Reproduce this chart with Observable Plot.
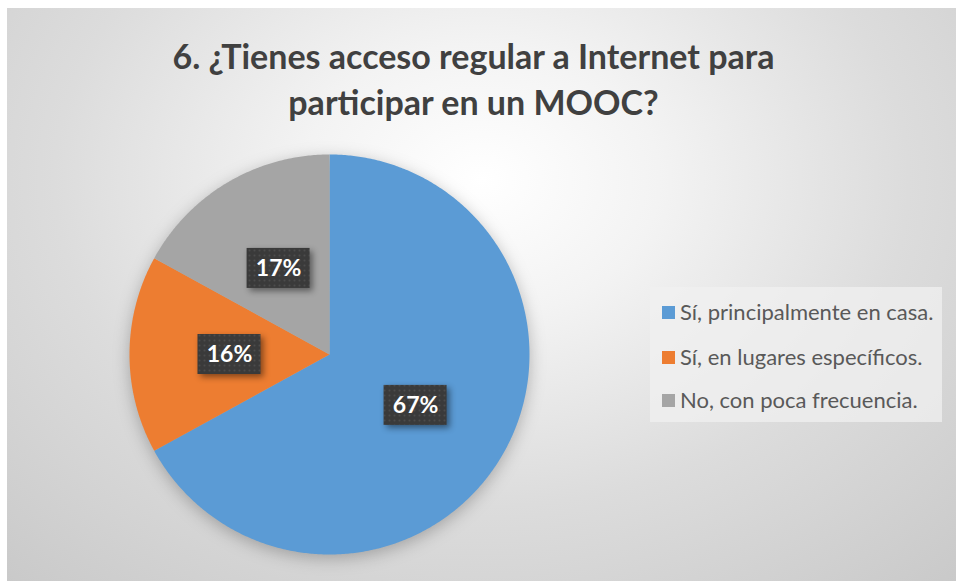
<!DOCTYPE html>
<html>
<head>
<meta charset="utf-8">
<script src="https://cdn.jsdelivr.net/npm/d3@7"></script>
<script src="https://cdn.jsdelivr.net/npm/@observablehq/plot@0.6"></script>
<style>
  html, body { margin: 0; padding: 0; background: #fff; }
  #wrap {
    position: absolute; left: 7px; top: 8px; width: 949px; height: 573px;
    background: radial-gradient(ellipse 75% 95% at 50% 30%, #ffffff 0%, #f3f3f3 25%, #dcdcdc 60%, #c9c9c9 100%);
    overflow: hidden;
    font-family: Lato, "Open Sans", sans-serif;
  }
  #title {
    position: absolute; left: 0; top: 25px; width: 933px; text-align: center;
    font-size: 34px; font-weight: bold; color: #404040; line-height: 46px;
  }
  #legend {
    position: absolute; left: 643px; top: 279px; width: 292px; height: 135px;
    background: rgba(240,240,240,0.75);
  }
  .item { position: absolute; left: 12px; font-size: 22px; line-height: 26px; color: #595959; white-space: nowrap; }
  .sw { display: inline-block; width: 13px; height: 13px; margin-right: 5px; vertical-align: 1px; }
  #chart { position: absolute; left: 0; top: 0; }
  g[aria-label="line"] { filter: drop-shadow(0px 4px 8px rgba(0,0,0,0.25)); }
  g[aria-label="rect"] { filter: drop-shadow(3px 3px 3px rgba(0,0,0,0.45)); }
</style>
</head>
<body>
<div id="wrap">
  <div id="chart"></div>
  <div id="title">6. ¿Tienes acceso regular a Internet para<br>participar en un MOOC?</div>
  <div id="legend"></div>
</div>
<script>
const categories = ["Sí, principalmente en casa.", "Sí, en lugares específicos.", "No, con poca frecuencia."];
const values = [67, 16, 17];
const colors = ["#5B9BD5", "#ED7D31", "#A5A5A5"];
const labels = ["67%", "16%", "17%"];

// pie angles (clockwise from 12 o'clock)
const pie = d3.pie().sort(null).value(d => d)(values);
const slicePts = [];
pie.forEach((p, i) => {
  slicePts.push({cat: categories[i], x: 0, y: 0});
  const n = Math.max(2, Math.ceil((p.endAngle - p.startAngle) / (Math.PI / 360)));
  for (let k = 0; k <= n; k++) {
    const a = p.startAngle + (p.endAngle - p.startAngle) * k / n;
    slicePts.push({cat: categories[i], x: Math.sin(a), y: Math.cos(a)});
  }
  slicePts.push({cat: categories[i], x: 0, y: 0});
});

const R = 200, cx = 322, cy = 346;
const bw = 63 / R / 2, bh = 40 / R / 2;
const labelData = pie.map((p, i) => {
  const a = (p.startAngle + p.endAngle) / 2;
  const x = 0.5 * Math.sin(a), y = 0.5 * Math.cos(a);
  return {label: labels[i], x, y, x1: x - bw, x2: x + bw, y1: y - bh, y2: y + bh};
});

const chart = Plot.plot({
  width: 949, height: 573,
  margin: 0,
  style: {background: "transparent", overflow: "visible"},
  x: {domain: [-1, 1], range: [cx - R, cx + R], axis: null},
  y: {domain: [-1, 1], range: [cy + R, cy - R], axis: null},
  color: {domain: categories, range: colors},
  marks: [
    Plot.line(slicePts, {x: "x", y: "y", z: "cat", fill: "cat", stroke: "none", curve: "linear"}),
    Plot.rect(labelData, {x1: "x1", x2: "x2", y1: "y1", y2: "y2", fill: "#3d3d3d"}),
    Plot.text(labelData, {x: "x", y: "y", text: "label", fill: "white", fontSize: 23, fontWeight: "bold", fontFamily: "Lato, 'Open Sans', sans-serif"})
  ]
});

// dotted pattern for data label boxes
const ns = "http://www.w3.org/2000/svg";
const defs = document.createElementNS(ns, "defs");
defs.innerHTML = '<pattern id="dots" width="5" height="5" patternUnits="userSpaceOnUse">' +
  '<rect width="5" height="5" fill="#3a3a3a"/><circle cx="2.5" cy="2.5" r="1" fill="#4c4c4c"/></pattern>';
chart.insertBefore(defs, chart.firstChild);
chart.querySelectorAll('g[aria-label="rect"] rect').forEach(r => r.setAttribute("fill", "url(#dots)"));

document.getElementById("chart").appendChild(chart);

const legend = document.getElementById("legend");
const centers = [25, 70, 113];
categories.forEach((c, i) => {
  const div = document.createElement("div");
  div.className = "item";
  div.style.top = (centers[i] - 13) + "px";
  div.innerHTML = `<span class="sw" style="background:${colors[i]}"></span>${c}`;
  legend.appendChild(div);
});
</script>
</body>
</html>
